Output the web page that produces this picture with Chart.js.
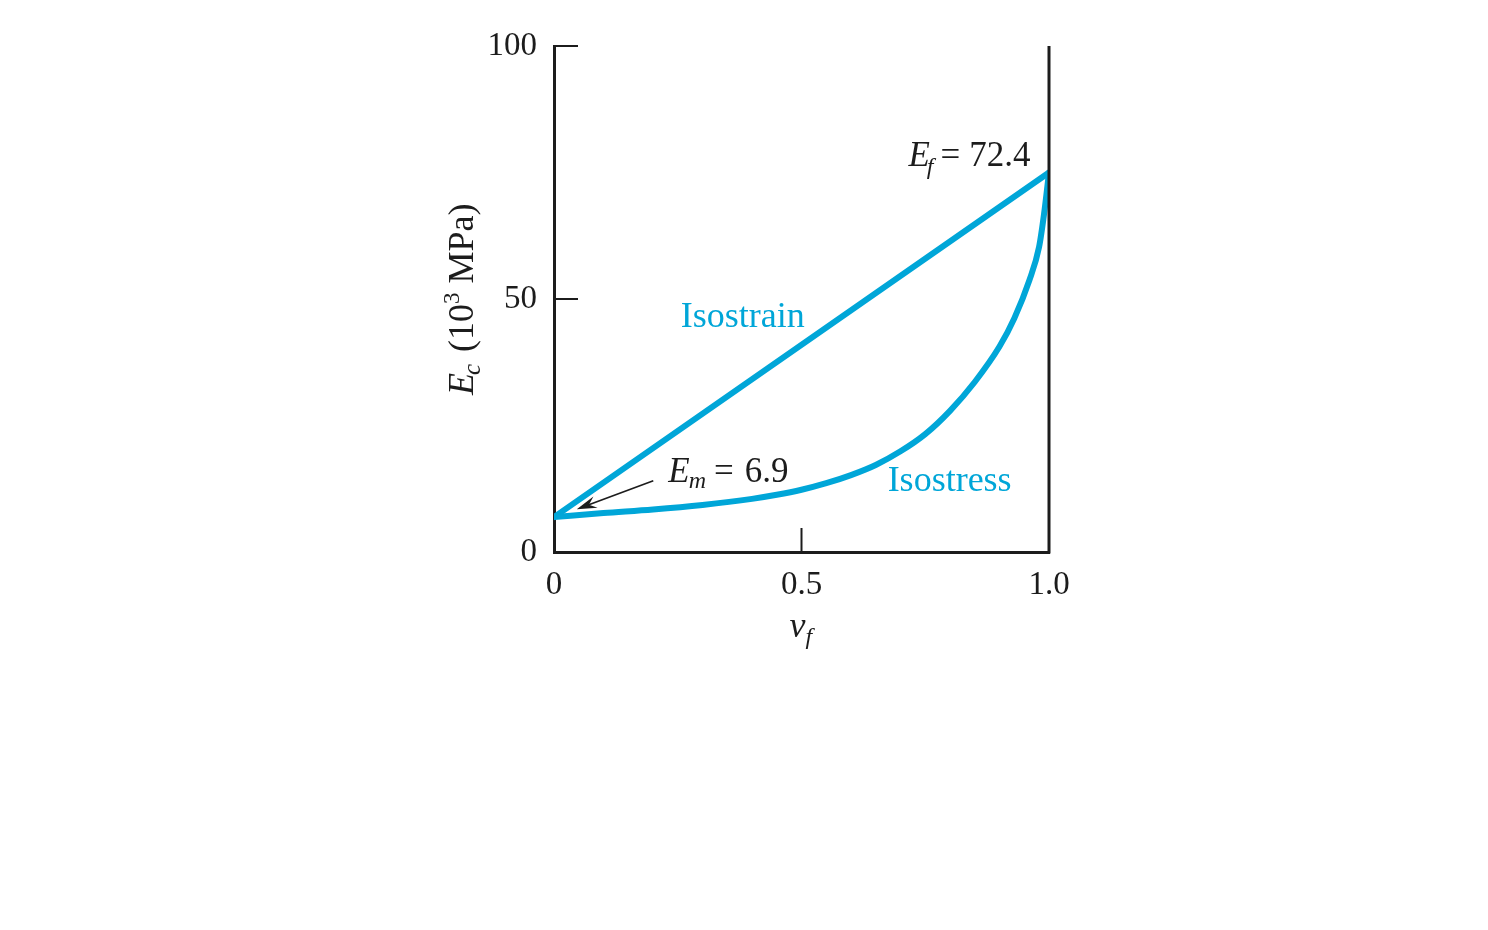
<!DOCTYPE html>
<html>
<head>
<meta charset="utf-8">
<script src="https://cdn.jsdelivr.net/npm/chart.js@4"></script>
<style>
  html, body { margin: 0; padding: 0; background: #ffffff; }
  #c { display: block; }
</style>
</head>
<body>
<canvas id="c" width="1488" height="930" style="width:1488px;height:930px"></canvas>
<script>
// ---- data ----
const vfStrain   = [0, 1.0];
const isostrainE = [6.9, 75.0];

const vfStress   = [0, 0.1, 0.2, 0.3, 0.4, 0.45, 0.5, 0.55, 0.6, 0.65, 0.7, 0.75, 0.8, 0.85, 0.9, 0.93, 0.96, 0.98, 0.99, 1.0];
const isostressE = [6.9, 7.7, 8.4, 9.3, 10.5, 11.3, 12.3, 13.6, 15.2, 17.2, 19.9, 23.3, 27.9, 33.6, 40.6, 46.2, 53.6, 60.3, 66.8, 75.0];

const xTickValues = [0, 0.5, 1.0];
const xTickLabels = ['0', '0.5', '1.0'];
const yTickValues = [0, 50, 100];
const yTickLabels = ['0', '50', '100'];

const seriesNames = ['Isostrain', 'Isostress'];
const EfLabel = '72.4';
const EmLabel = '6.9';

// ---- styling ----
const BLUE = '#00a6d8';
const INK = '#1c1c1c';
const SERIF = '"Liberation Serif", "DejaVu Serif", serif';

function pts(xs, ys) { return xs.map((x, i) => ({ x: x, y: ys[i] })); }

function drawRich(ctx, x, y, segs) {
  let cx = x;
  for (const s of segs) {
    ctx.font = s.font;
    ctx.fillText(s.t, cx, y + (s.dy || 0));
    cx += ctx.measureText(s.t).width + (s.dx || 0);
  }
}

const decor = {
  id: 'decor',
  afterDatasetsDraw(chart) {
    const ctx = chart.ctx;
    const xs = chart.scales.x, ys = chart.scales.y;
    const a = chart.chartArea;
    ctx.save();
    // right frame line
    ctx.strokeStyle = INK;
    ctx.lineWidth = 3;
    ctx.beginPath();
    ctx.moveTo(a.right, ys.getPixelForValue(100));
    ctx.lineTo(a.right, ys.getPixelForValue(0) + 1.5);
    ctx.stroke();
    // inward ticks
    ctx.lineWidth = 2;
    [50, 100].forEach(v => {
      const py = ys.getPixelForValue(v);
      ctx.beginPath();
      ctx.moveTo(a.left, py);
      ctx.lineTo(a.left + 24, py);
      ctx.stroke();
    });
    const px5 = xs.getPixelForValue(0.5);
    ctx.beginPath();
    ctx.moveTo(px5, a.bottom);
    ctx.lineTo(px5, a.bottom - 24);
    ctx.stroke();

    // series labels
    ctx.fillStyle = BLUE;
    ctx.textBaseline = 'alphabetic';
    ctx.textAlign = 'left';
    ctx.font = '36px ' + SERIF;
    ctx.fillText(seriesNames[0], xs.getPixelForValue(0.256), ys.getPixelForValue(44.4));
    ctx.fillText(seriesNames[1], xs.getPixelForValue(0.674), ys.getPixelForValue(12.0));

    // Ef label
    ctx.fillStyle = INK;
    const it = 'italic 35px ' + SERIF, itS = 'italic 24px ' + SERIF, rg = '35px ' + SERIF;
    drawRich(ctx, xs.getPixelForValue(0.716), ys.getPixelForValue(76.2), [
      { t: 'E', font: it, dx: -3 },
      { t: 'f', font: itS, dy: 8, dx: 7 },
      { t: '=', font: rg, dx: 9 },
      { t: EfLabel, font: rg }
    ]);
    // Em label
    drawRich(ctx, xs.getPixelForValue(0.231), ys.getPixelForValue(13.9), [
      { t: 'E', font: it, dx: -1 },
      { t: 'm', font: itS, dy: 6, dx: 8 },
      { t: '=', font: rg, dx: 11 },
      { t: EmLabel, font: rg }
    ]);

    // arrow
    const x1 = xs.getPixelForValue(0.2006), y1 = ys.getPixelForValue(14.1);
    const x2 = xs.getPixelForValue(0.046), y2 = ys.getPixelForValue(8.45);
    const ang = Math.atan2(y2 - y1, x2 - x1);
    ctx.strokeStyle = INK;
    ctx.lineWidth = 1.6;
    ctx.beginPath();
    ctx.moveTo(x1, y1);
    ctx.lineTo(x2 - 10 * Math.cos(ang), y2 - 10 * Math.sin(ang));
    ctx.stroke();
    ctx.beginPath();
    const L = 20, W = 6;
    const bx = x2 - L * Math.cos(ang), by = y2 - L * Math.sin(ang);
    ctx.moveTo(x2, y2);
    ctx.lineTo(bx + W * Math.sin(ang), by - W * Math.cos(ang));
    ctx.lineTo(x2 - 13 * Math.cos(ang), y2 - 13 * Math.sin(ang));
    ctx.lineTo(bx - W * Math.sin(ang), by + W * Math.cos(ang));
    ctx.closePath();
    ctx.fillStyle = INK;
    ctx.fill();

    // x axis title  (nu_f)
    ctx.fillStyle = INK;
    drawRich(ctx, xs.getPixelForValue(0.5) - 12, a.bottom + 85, [
      { t: '\u03BD', font: 'italic 36px ' + SERIF, dx: 0 },
      { t: 'f', font: 'italic 24px ' + SERIF, dy: 7 }
    ]);

    // y axis title  E_c (10^3 MPa)
    ctx.translate(a.left - 81, ys.getPixelForValue(0) - 157);
    ctx.rotate(-Math.PI / 2);
    drawRich(ctx, 0, 0, [
      { t: 'E', font: 'italic 36px ' + SERIF, dx: -2 },
      { t: 'c', font: 'italic 25px ' + SERIF, dy: 7, dx: 3 },
      { t: ' (10', font: '36px ' + SERIF },
      { t: '3', font: '23px ' + SERIF, dy: -14, dx: 0 },
      { t: ' MPa)', font: '36px ' + SERIF }
    ]);
    ctx.restore();
  }
};

new Chart(document.getElementById('c'), {
  type: 'line',
  data: {
    datasets: [
      {
        label: seriesNames[0],
        data: pts(vfStrain, isostrainE),
        borderColor: BLUE,
        borderWidth: 6,
        pointRadius: 0,
        tension: 0,
        fill: false,
        borderCapStyle: 'round',
        borderJoinStyle: 'round'
      },
      {
        label: seriesNames[1],
        data: pts(vfStress, isostressE),
        borderColor: BLUE,
        borderWidth: 6,
        pointRadius: 0,
        cubicInterpolationMode: 'monotone',
        fill: false,
        borderCapStyle: 'round',
        borderJoinStyle: 'round'
      }
    ]
  },
  options: {
    responsive: false,
    animation: false,
    devicePixelRatio: 1,
    layout: { padding: { left: 434, right: 439, top: 46, bottom: 268 } },
    plugins: { legend: { display: false }, tooltip: { enabled: false } },
    scales: {
      x: {
        type: 'linear',
        min: 0, max: 1,
        afterBuildTicks: s => { s.ticks = xTickValues.map(v => ({ value: v })); },
        afterFit: s => { s.height = 110; },
        ticks: {
          callback: (v, i) => xTickLabels[i],
          font: { family: SERIF, size: 33 },
          color: INK,
          padding: 14,
          maxRotation: 0,
          autoSkip: false
        },
        grid: { display: false, drawTicks: false },
        border: { display: true, color: INK, width: 3 }
      },
      y: {
        type: 'linear',
        min: 0, max: 100,
        afterBuildTicks: s => { s.ticks = yTickValues.map(v => ({ value: v })); },
        afterFit: s => { s.width = 120; },
        ticks: {
          callback: (v, i) => yTickLabels[i],
          font: { family: SERIF, size: 33 },
          color: INK,
          padding: 17,
          autoSkip: false
        },
        grid: { display: false, drawTicks: false },
        border: { display: true, color: INK, width: 3 }
      }
    }
  },
  plugins: [decor]
});
</script>
</body>
</html>
